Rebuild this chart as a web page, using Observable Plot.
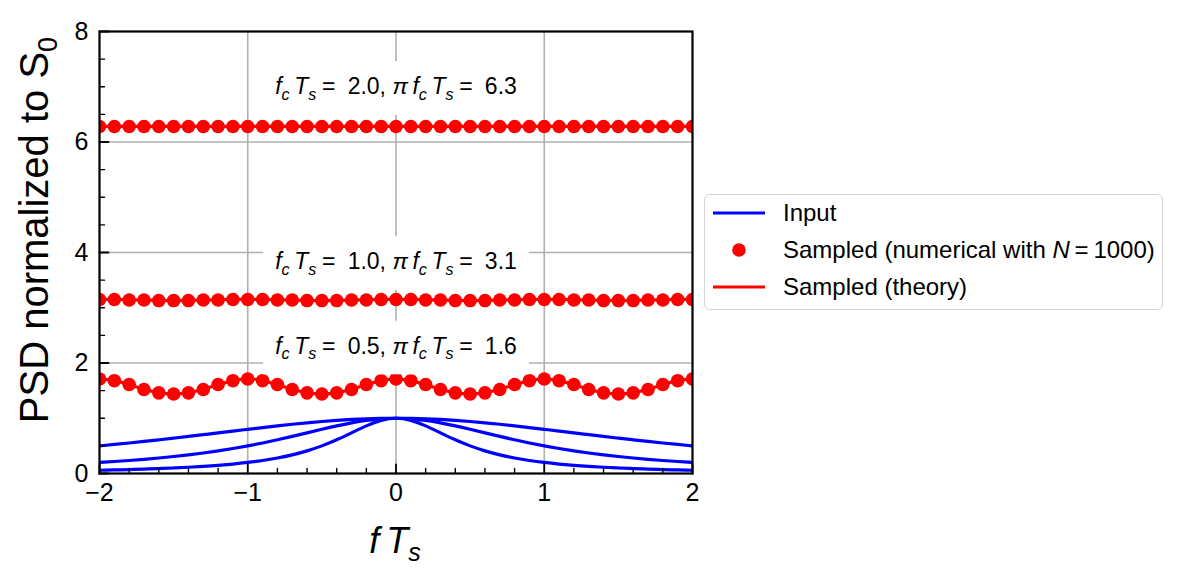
<!DOCTYPE html>
<html><head><meta charset="utf-8">
<script src="https://cdn.jsdelivr.net/npm/d3@7"></script>
<script src="https://cdn.jsdelivr.net/npm/@observablehq/plot@0.6"></script>
<style>
body{margin:0;background:#fff;font-family:"Liberation Sans",Arial,sans-serif;}
#wrap{position:relative;width:1181px;height:583px;overflow:hidden;}
#legend{position:absolute;left:704px;top:194px;width:459px;height:116px;border:1.5px solid #d4d4d4;border-radius:6px;background:#fff;box-sizing:border-box;}
.lrow{position:absolute;left:0;height:36px;width:100%;}
.lrow .sw{position:absolute;left:8px;top:0;width:52px;height:36px;}
.lrow .tx{position:absolute;left:78px;top:0;line-height:36px;font-size:24px;color:#000;white-space:nowrap;}
</style></head><body><div id="wrap"></div>
<script>
// frequency axis f*Ts
const fTs = [-2.0,-1.9,-1.8,-1.7,-1.6,-1.5,-1.4,-1.3,-1.2,-1.1,-1.0,-0.9,-0.8,-0.7,-0.6,-0.5,-0.4,-0.3,-0.2,-0.1,0.0,
  0.1,0.2,0.3,0.4,0.5,0.6,0.7,0.8,0.9,1.0,1.1,1.2,1.3,1.4,1.5,1.6,1.7,1.8,1.9,2.0];
// input PSD (normalized), fc*Ts = 0.5, 1.0, 2.0
const input05 = [0.0588,0.0648,0.0716,0.0796,0.0890,0.1000,0.1131,0.1289,0.1479,0.1712,0.2000,0.2358,0.2809,0.3378,0.4098,0.5000,0.6098,0.7353,0.8621,0.9615,1.0000,
  0.9615,0.8621,0.7353,0.6098,0.5000,0.4098,0.3378,0.2809,0.2358,0.2000,0.1712,0.1479,0.1289,0.1131,0.1000,0.0890,0.0796,0.0716,0.0648,0.0588];
const input10 = [0.2000,0.2169,0.2358,0.2571,0.2809,0.3077,0.3378,0.3717,0.4098,0.4525,0.5000,0.5525,0.6098,0.6711,0.7353,0.8000,0.8621,0.9174,0.9615,0.9901,1.0000,
  0.9901,0.9615,0.9174,0.8621,0.8000,0.7353,0.6711,0.6098,0.5525,0.5000,0.4525,0.4098,0.3717,0.3378,0.3077,0.2809,0.2571,0.2358,0.2169,0.2000];
const input20 = [0.5000,0.5256,0.5525,0.5806,0.6098,0.6400,0.6711,0.7030,0.7353,0.7678,0.8000,0.8316,0.8621,0.8909,0.9174,0.9412,0.9615,0.9780,0.9901,0.9975,1.0000,
  0.9975,0.9901,0.9780,0.9615,0.9412,0.9174,0.8909,0.8621,0.8316,0.8000,0.7678,0.7353,0.7030,0.6711,0.6400,0.6098,0.5806,0.5525,0.5256,0.5000];
// sampled PSD, theory
const theory05 = [1.713,1.682,1.608,1.524,1.463,1.441,1.463,1.524,1.608,1.682,1.713,1.682,1.608,1.524,1.463,1.441,1.463,1.524,1.608,1.682,1.713,
  1.682,1.608,1.524,1.463,1.441,1.463,1.524,1.608,1.682,1.713,1.682,1.608,1.524,1.463,1.441,1.463,1.524,1.608,1.682,1.713];
const theory10 = [3.153,3.151,3.145,3.138,3.132,3.130,3.132,3.138,3.145,3.151,3.153,3.151,3.145,3.138,3.132,3.130,3.132,3.138,3.145,3.151,3.153,
  3.151,3.145,3.138,3.132,3.130,3.132,3.138,3.145,3.151,3.153,3.151,3.145,3.138,3.132,3.130,3.132,3.138,3.145,3.151,3.153];
const theory20 = [6.283,6.283,6.283,6.283,6.283,6.283,6.283,6.283,6.283,6.283,6.283,6.283,6.283,6.283,6.283,6.283,6.283,6.283,6.283,6.283,6.283,
  6.283,6.283,6.283,6.283,6.283,6.283,6.283,6.283,6.283,6.283,6.283,6.283,6.283,6.283,6.283,6.283,6.283,6.283,6.283,6.283];
// sampled PSD, numerical (N = 1000)
const num05 = [1.71,1.68,1.61,1.52,1.46,1.44,1.46,1.52,1.61,1.68,1.71,1.68,1.61,1.52,1.46,1.44,1.46,1.52,1.61,1.68,1.71,
  1.68,1.61,1.52,1.46,1.44,1.46,1.52,1.61,1.68,1.71,1.68,1.61,1.52,1.46,1.44,1.46,1.52,1.61,1.68,1.71];
const num10 = [3.15,3.15,3.14,3.14,3.13,3.13,3.13,3.14,3.14,3.15,3.15,3.15,3.14,3.14,3.13,3.13,3.13,3.14,3.14,3.15,3.15,
  3.15,3.14,3.14,3.13,3.13,3.13,3.14,3.14,3.15,3.15,3.15,3.14,3.14,3.13,3.13,3.13,3.14,3.14,3.15,3.15];
const num20 = [6.28,6.28,6.28,6.28,6.28,6.28,6.28,6.28,6.28,6.28,6.28,6.28,6.28,6.28,6.28,6.28,6.28,6.28,6.28,6.28,6.28,
  6.28,6.28,6.28,6.28,6.28,6.28,6.28,6.28,6.28,6.28,6.28,6.28,6.28,6.28,6.28,6.28,6.28,6.28,6.28,6.28];
// annotations
const annFc = ["0.5","1.0","2.0"];
const annPiFc = ["1.6","3.1","6.3"];
const annX = [0, 0, 0];
const annY = [2.30, 3.83, 7.00];
// ticks
const xMajor = [-2,-1,0,1,2];
const xMinor = [-1.8,-1.6,-1.4,-1.2,-0.8,-0.6,-0.4,-0.2,0.2,0.4,0.6,0.8,1.2,1.4,1.6,1.8];
const yMajor = [0,2,4,6,8];
const yMinor = [0.5,1,1.5,2.5,3,3.5,4.5,5,5.5,6.5,7,7.5];
const xGrid = [-1,0,1];
const yGrid = [2,4,6];

const long = (ys, k) => fTs.map((f,i)=>({f, v: ys[i], k}));
const inputData = [...long(input05,"0.5"), ...long(input10,"1.0"), ...long(input20,"2.0")];
const theoryData = [...long(theory05,"0.5"), ...long(theory10,"1.0"), ...long(theory20,"2.0")];
const numData = [...long(num05,"0.5"), ...long(num10,"1.0"), ...long(num20,"2.0")];
const annData = annFc.map((fc,i)=>({fc, pi: annPiFc[i], x: annX[i], y: annY[i], i}));

const tickShape = {draw(ctx, l) { ctx.moveTo(0,0); ctx.lineTo(0,-l); }};
const fmt = d => d < 0 ? "\u2212" + Math.abs(d) : String(d);

const FONT = "'Liberation Sans', Arial, sans-serif";
const plot = Plot.plot({
  width: 1181, height: 583,
  marginLeft: 99, marginRight: 489, marginTop: 31, marginBottom: 110,
  style: {fontFamily: FONT, fontSize: "25px", background: "white", color: "black"},
  x: {domain: [-2, 2], label: null},
  y: {domain: [0, 8], label: null},
  marks: [
    Plot.ruleX(xGrid, {x: d=>d, stroke: "#b0b0b0", strokeWidth: 1.6}),
    Plot.ruleY(yGrid, {y: d=>d, stroke: "#b0b0b0", strokeWidth: 1.6}),
    Plot.line(inputData, {x: "f", y: "v", z: "k", stroke: "#0000ff", strokeWidth: 3.2, curve: "natural", clip: true}),
    Plot.dot(numData, {x: "f", y: "v", r: 6.8, fill: "#ff0000", stroke: "none", clip: true}),
    Plot.line(theoryData, {x: "f", y: "v", z: "k", stroke: "#ff0000", strokeWidth: 3.2, curve: "natural", clip: true}),
    Plot.text(annData, {x: "x", y: "y", text: d => "ann" + d.i, fontSize: 23, fill: "black"}),
    Plot.vector(xMajor, {x: d=>d, y: 0, length: 9, anchor: "start", shape: tickShape, stroke: "black", strokeWidth: 1.8}),
    Plot.vector(xMinor, {x: d=>d, y: 0, length: 5, anchor: "start", shape: tickShape, stroke: "black", strokeWidth: 1.4}),
    Plot.vector(yMajor, {x: -2, y: d=>d, rotate: 90, length: 9, anchor: "start", shape: tickShape, stroke: "black", strokeWidth: 1.8}),
    Plot.vector(yMinor, {x: -2, y: d=>d, rotate: 90, length: 5, anchor: "start", shape: tickShape, stroke: "black", strokeWidth: 1.4}),
    Plot.axisX({ticks: xMajor, tickSize: 0, tickPadding: 10, tickFormat: fmt, fontSize: 25, label: null}),
    Plot.axisY({ticks: yMajor, tickSize: 0, tickPadding: 11, tickFormat: fmt, fontSize: 25, label: null}),
    Plot.frame({stroke: "black", strokeWidth: 2.2})
  ]
});
const wrap = document.getElementById("wrap");
wrap.appendChild(plot);

const ns = "http://www.w3.org/2000/svg";
function span(parent, s, attrs) {
  const t = document.createElementNS(ns, "tspan");
  t.textContent = s;
  for (const k in (attrs||{})) t.setAttribute(k, attrs[k]);
  parent.appendChild(t);
  return t;
}
// rebuild annotation labels with math formatting and white boxes
const fs = 23, sub = fs*0.7, sh = fs*0.24;
plot.querySelectorAll('g[aria-label="text"] text').forEach(el => {
  const m = /ann(\d+)/.exec(el.textContent);
  if (!m) return;
  const d = annData[+m[1]];
  el.textContent = "";
  el.style.whiteSpace = "pre";
  const it = {"font-style": "italic"};
  span(el, "f", it);
  span(el, "c", {"font-style":"italic","font-size":sub,"dy":sh});
  span(el, "\u2009T", {"font-style":"italic","dy":-sh});
  span(el, "s", {"font-style":"italic","font-size":sub,"dy":sh});
  span(el, "\u2005=\u2005 " + d.fc + ", ", {"dy":-sh});
  span(el, "\u03c0\u2009", it);
  span(el, "f", it);
  span(el, "c", {"font-style":"italic","font-size":sub,"dy":sh});
  span(el, "\u2009T", {"font-style":"italic","dy":-sh});
  span(el, "s", {"font-style":"italic","font-size":sub,"dy":sh});
  span(el, "\u2005=\u2005 " + d.pi, {"dy":-sh});
  const bb = el.getBBox();
  const pad = 12;
  const r = document.createElementNS(ns, "rect");
  r.setAttribute("x", bb.x - pad); r.setAttribute("y", bb.y - pad);
  r.setAttribute("width", bb.width + 2*pad); r.setAttribute("height", bb.height + 2*pad);
  r.setAttribute("fill", "white");
  const tr = el.getAttribute("transform");
  if (tr) r.setAttribute("transform", tr);
  el.parentNode.insertBefore(r, el);
});

// axis titles
const svg = d3.select(plot);
const yl = svg.append("text").attr("transform", "translate(48,230) rotate(-90)")
  .attr("text-anchor", "middle").attr("font-size", 40).attr("fill", "black").style("font-family", FONT);
yl.append("tspan").text("PSD normalized to S");
yl.append("tspan").text("0").attr("font-size", 27).attr("dy", 9);
const xl = svg.append("text").attr("x", 395).attr("y", 553)
  .attr("text-anchor", "middle").attr("font-size", 36).attr("fill", "black").style("font-family", FONT);
xl.append("tspan").text("f\u2009T").attr("font-style", "italic");
xl.append("tspan").text("s").attr("font-style", "italic").attr("font-size", 25).attr("dy", 8);

// legend
const legendItems = [
  {label: "Input", kind: "line", color: "#0000ff"},
  {label: "Sampled (numerical with <i>N</i>\u2009=\u20091000)", kind: "dot", color: "#ff0000"},
  {label: "Sampled (theory)", kind: "line", color: "#ff0000"}
];
const lg = document.createElement("div");
lg.id = "legend";
legendItems.forEach((it, i) => {
  const row = document.createElement("div");
  row.className = "lrow";
  row.style.top = (0 + i*37) + "px";
  const sw = it.kind === "line"
    ? `<svg class="sw" width="52" height="36"><line x1="0" x2="52" y1="18" y2="18" stroke="${it.color}" stroke-width="3.2"/></svg>`
    : `<svg class="sw" width="52" height="36"><circle cx="26" cy="18" r="6.8" fill="${it.color}"/></svg>`;
  row.innerHTML = sw + `<span class="tx">${it.label}</span>`;
  lg.appendChild(row);
});
wrap.appendChild(lg);
</script>
</body></html>
